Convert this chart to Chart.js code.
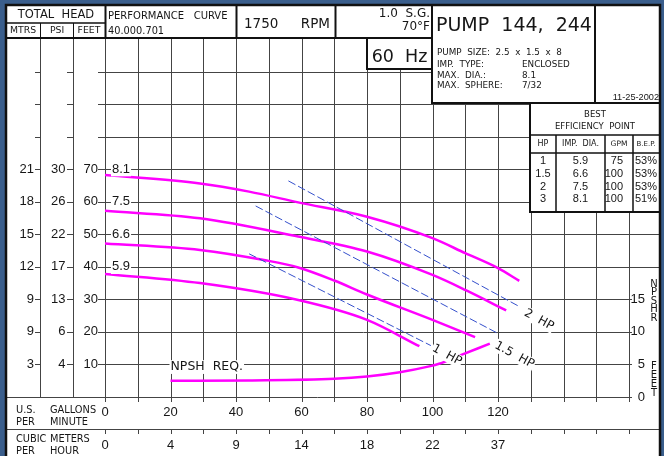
<!DOCTYPE html>
<html>
<head>
<meta charset="utf-8">
<script src="https://cdn.jsdelivr.net/npm/chart.js@4/dist/chart.umd.min.js"></script>
<style>
html,body{margin:0;padding:0;background:#3a5e8c;}
canvas{display:block;}
</style>
</head>
<body>
<canvas id="c" width="664" height="456"></canvas>
<script>
// ---------- data ----------
const GPM_TICKS   = [0, 20, 40, 60, 80, 100, 120];
const M3H_LABELS  = ['0', '4', '9', '14', '18', '22', '37'];
const FEET_TICKS  = [10, 20, 30, 40, 50, 60, 70];
const PSI_LABELS  = ['4', '6', '13', '17', '22', '26', '30'];
const MTRS_LABELS = ['3', '9', '9', '12', '15', '18', '21'];
const NPSH_TICKS  = [0, 5, 10, 15];
const IMP_LABELS  = ['8.1', '7.5', '6.6', '5.9'];
const IMP_LABEL_FT = [70, 60, 50, 40];

const IMP_81_GPM = [0, 29, 44, 59, 80, 100, 110, 120, 126.5];
const IMP_81_FT  = [68.2, 65.6, 63.1, 59.8, 55.4, 48.8, 44.2, 39.6, 35.7];
const IMP_75_GPM = [0, 29, 59, 80, 100, 110, 122.5];
const IMP_75_FT  = [57.2, 54.9, 49.3, 44.7, 37.5, 32.9, 26.6];
const IMP_66_GPM = [0, 29, 49, 59, 70, 80, 100, 113];
const IMP_66_FT  = [47.2, 45.2, 42.0, 39.8, 35.8, 31.5, 23.7, 18.4];
const IMP_59_GPM = [0, 29, 59, 80, 96];
const IMP_59_FT  = [37.8, 35.0, 29.8, 23.7, 15.6];

const NPSH_GPM = [20, 44, 70, 80, 90, 99, 102, 109, 117.5];
const NPSH_FT  = [2.5, 2.55, 2.8, 3.15, 3.8, 4.7, 5.1, 6.5, 8.2];

const HP2_GPM  = [56, 126.5];  const HP2_FT  = [66.4, 27.8];
const HP15_GPM = [46, 119.5];  const HP15_FT = [58.7, 19.8];
const HP1_GPM  = [44, 99.5];   const HP1_FT  = [44, 15.8];

const BEP_HP  = ['1', '1.5', '2', '3'];
const BEP_DIA = ['5.9', '6.6', '7.5', '8.1'];
const BEP_GPM = ['75', '100', '100', '100'];
const BEP_EFF = ['53%', '53%', '53%', '51%'];

// ---------- helpers ----------
const pts = (xs, ys) => xs.map((x, i) => ({x: x, y: ys[i]}));
const MAG = '#ff00ff';
const BLUE = '#3550cc';
const INK = '#161616';
const GRID = '#444';
const DV = '"DejaVu Sans", sans-serif';
const LS = '"Liberation Sans", Arial, sans-serif';

function T(ctx, s, x, y, size, align, fam, bg) {
  ctx.font = size + 'px ' + (fam || DV);
  ctx.textAlign = align || 'left';
  ctx.textBaseline = 'middle';
  if (bg) {
    const w = ctx.measureText(s).width;
    let lx = x;
    if (ctx.textAlign === 'center') lx = x - w / 2;
    else if (ctx.textAlign === 'right') lx = x - w;
    ctx.fillStyle = '#fff';
    ctx.fillRect(lx - 1, y - size * 0.55, w + 2, size * 1.1);
  }
  ctx.fillStyle = INK;
  ctx.fillText(s, x, y);
}
function L(ctx, x1, y1, x2, y2, w, c) {
  ctx.beginPath();
  ctx.lineWidth = w || 1;
  ctx.strokeStyle = c || GRID;
  ctx.moveTo(x1, y1); ctx.lineTo(x2, y2);
  ctx.stroke();
}
function box(ctx, x1, y1, x2, y2, w) {
  ctx.fillStyle = '#fff';
  ctx.fillRect(x1, y1, x2 - x1, y2 - y1);
  ctx.lineWidth = w || 2;
  ctx.strokeStyle = '#111';
  ctx.strokeRect(x1, y1, x2 - x1, y2 - y1);
}

const sheet = {
  id: 'sheet',
  beforeDatasetsDraw(chart) {
    const ctx = chart.ctx, xs = chart.scales.x, ys = chart.scales.y, y2 = chart.scales.y2;
    const px = v => Math.round(xs.getPixelForValue(v)) + 0.5;
    const py = v => Math.round(ys.getPixelForValue(v)) + 0.5;
    ctx.save();
    // paper
    ctx.fillStyle = '#fff';
    ctx.fillRect(6, 5, 654, 451);
    const HB = 38; // header bottom
    // vertical grid
    for (let g = 0; g <= 160; g += 10) {
      const x = px(g);
      L(ctx, x, HB, x, 402);
      L(ctx, x, 429, x, 434);
    }
    // horizontal grid
    for (let f = 10; f <= 100; f += 10) {
      const y = py(f);
      L(ctx, 98, y, f >= 40 ? 660 : 629, y);
      L(ctx, 35, y, 40.5, y);
      L(ctx, 67, y, 73.5, y);
    }
    L(ctx, 6, py(0), 629, py(0));
    L(ctx, 6, 429.5, 660, 429.5);
    L(ctx, 40.5, 23, 40.5, py(0));
    L(ctx, 73.5, 23, 73.5, py(0));
    // NPSH ticks
    NPSH_TICKS.forEach(n => {
      const y = Math.round(y2.getPixelForValue(n)) + 0.5;
      L(ctx, 629, y, 632, y);
    });

    // header boxes
    box(ctx, 6, 5, 432, HB);
    L(ctx, 105.5, 5, 105.5, HB, 2, '#111');
    L(ctx, 236.5, 5, 236.5, HB, 2, '#111');
    L(ctx, 335.5, 5, 335.5, HB, 2, '#111');
    L(ctx, 6, 23, 105.5, 23, 1.5, '#111');
    L(ctx, 40.5, 23, 40.5, HB, 1, '#111');
    L(ctx, 73.5, 23, 73.5, HB, 1, '#111');
    box(ctx, 367, HB, 432, 69);
    box(ctx, 432, 5, 595, 103);
    box(ctx, 595, 5, 660, 103);
    box(ctx, 530, 103, 660, 212);
    L(ctx, 530, 135, 660, 135, 1.5, '#111');
    L(ctx, 530, 153, 660, 153, 1.5, '#111');
    [556, 605, 633].forEach(x => L(ctx, x, 135, x, 212, 1.5, '#111'));

    // header texts
    T(ctx, 'TOTAL  HEAD', 56, 15, 11.5, 'center');
    T(ctx, 'MTRS', 23, 31, 9.3, 'center');
    T(ctx, 'PSI', 57, 31, 9.3, 'center');
    T(ctx, 'FEET', 89, 31, 9.3, 'center');
    T(ctx, 'PERFORMANCE   CURVE', 108, 16, 10, 'left');
    T(ctx, '40.000.701', 108, 31, 9.8, 'left');
    T(ctx, '1750', 244, 24, 13.5, 'left');
    T(ctx, 'RPM', 330, 24, 13.5, 'right');
    T(ctx, '1.0  S.G.', 430, 14, 12, 'right');
    T(ctx, '70°F', 430, 27, 12, 'right');
    T(ctx, '60  Hz', 399.5, 57, 17.5, 'center');
    T(ctx, 'PUMP  144,  244', 436, 26, 19, 'left');
    T(ctx, 'PUMP  SIZE:  2.5  x  1.5  x  8', 437, 53, 8.8, 'left');
    T(ctx, 'IMP.  TYPE:', 437, 64.5, 8.8, 'left');
    T(ctx, 'ENCLOSED', 522, 64.5, 8.8, 'left');
    T(ctx, 'MAX.  DIA.:', 437, 75.5, 8.8, 'left');
    T(ctx, '8.1', 522, 75.5, 8.8, 'left');
    T(ctx, 'MAX.  SPHERE:', 437, 86, 8.8, 'left');
    T(ctx, '7/32', 522, 86, 8.8, 'left');
    T(ctx, '11-25-2002', 659, 97, 9.2, 'right', LS);

    // BEP table
    T(ctx, 'BEST', 595, 115, 8.5, 'center');
    T(ctx, 'EFFICIENCY  POINT', 595, 127, 8.5, 'center');
    T(ctx, 'HP', 543, 144, 8, 'center');
    T(ctx, 'IMP.  DIA.', 580.5, 144, 8, 'center');
    T(ctx, 'GPM', 619, 144, 7.5, 'center');
    T(ctx, 'B.E.P.', 646, 144, 7, 'center');
    const rowY = [161, 174, 187, 199];
    BEP_HP.forEach((v, i) => {
      T(ctx, v, 543, rowY[i], 11, 'center', LS);
      T(ctx, BEP_DIA[i], 580.5, rowY[i], 11, 'center', LS);
      T(ctx, BEP_GPM[i], 623, rowY[i], 11, 'right', LS);
      T(ctx, BEP_EFF[i], 646, rowY[i], 11, 'center', LS);
    });

    // left axis labels
    FEET_TICKS.forEach((f, i) => {
      const y = ys.getPixelForValue(f);
      T(ctx, MTRS_LABELS[i], 34, y, 13, 'right', LS);
      T(ctx, PSI_LABELS[i], 65.5, y, 13, 'right', LS);
      T(ctx, String(f), 98, y, 13, 'right', LS);
    });
    // right NPSH axis
    NPSH_TICKS.forEach(n => {
      T(ctx, String(n), 645, y2.getPixelForValue(n), 13, 'right', LS);
    });
    'NPSHR'.split('').forEach((c, i) => T(ctx, c, 654, 284 + i * 8.6, 10, 'center'));
    'FEET'.split('').forEach((c, i) => T(ctx, c, 654, 366 + i * 9, 10, 'center'));

    // bottom rows
    T(ctx, 'U.S.', 16, 410, 9.8);
    T(ctx, 'GALLONS', 50, 410, 9.8);
    T(ctx, 'PER', 16, 422, 9.8);
    T(ctx, 'MINUTE', 50, 422, 9.8);
    T(ctx, 'CUBIC', 16, 439, 9.8);
    T(ctx, 'METERS', 50, 439, 9.8);
    T(ctx, 'PER', 16, 451, 9.8);
    T(ctx, 'HOUR', 50, 451, 9.8);
    GPM_TICKS.forEach((g, i) => {
      const x = xs.getPixelForValue(g);
      T(ctx, String(g), x, 412, 13, 'center', LS);
      T(ctx, M3H_LABELS[i], x, 445, 13, 'center', LS);
    });
    ctx.restore();
  },
  afterDatasetsDraw(chart) {
    const ctx = chart.ctx, xs = chart.scales.x, ys = chart.scales.y;
    ctx.save();
    // impeller diameter labels
    IMP_LABELS.forEach((s, i) => {
      T(ctx, s, 112, ys.getPixelForValue(IMP_LABEL_FT[i]), 13, 'left', LS, true);
    });
    T(ctx, 'NPSH  REQ.', xs.getPixelForValue(20), ys.getPixelForValue(9.2), 12.5, 'left', DV, true);
    // HP labels (rotated)
    const hp = [['2  HP', 132.5, 23.7], ['1.5  HP', 125, 12.9], ['1  HP', 104.4, 12.9]];
    hp.forEach(h => {
      ctx.save();
      ctx.translate(xs.getPixelForValue(h[1]), ys.getPixelForValue(h[2]));
      ctx.rotate(0.5);
      T(ctx, h[0], 0, 0, 12, 'center', DV, true);
      ctx.restore();
    });
    // paper border
    ctx.lineWidth = 2.5;
    ctx.strokeStyle = '#111';
    ctx.strokeRect(6, 5, 654, 460);
    ctx.restore();
  }
};

const curve = (xs, ys, axis) => ({
  data: pts(xs, ys), yAxisID: axis || 'y', borderColor: MAG, borderWidth: 2.5,
  pointRadius: 0, cubicInterpolationMode: 'monotone', fill: false
});
const hpLine = (xs, ys) => ({
  data: pts(xs, ys), yAxisID: 'y', borderColor: BLUE, borderWidth: 1,
  borderDash: [8, 3], pointRadius: 0, fill: false
});

new Chart(document.getElementById('c'), {
  type: 'line',
  data: {
    datasets: [
      hpLine(HP2_GPM, HP2_FT),
      hpLine(HP15_GPM, HP15_FT),
      hpLine(HP1_GPM, HP1_FT),
      curve(IMP_81_GPM, IMP_81_FT),
      curve(IMP_75_GPM, IMP_75_FT),
      curve(IMP_66_GPM, IMP_66_FT),
      curve(IMP_59_GPM, IMP_59_FT),
      curve(NPSH_GPM, NPSH_FT, 'y2')
    ]
  },
  options: {
    responsive: false,
    animation: false,
    devicePixelRatio: 1,
    events: [],
    layout: {padding: {left: 105, right: 35, top: 39, bottom: 59}},
    plugins: {legend: {display: false}, tooltip: {enabled: false}},
    scales: {
      x: {type: 'linear', min: 0, max: 160, display: false},
      y: {type: 'linear', min: 0, max: 110, display: false},
      y2: {type: 'linear', min: 0, max: 55, display: false, position: 'right'}
    }
  },
  plugins: [sheet]
});
</script>
</body>
</html>
